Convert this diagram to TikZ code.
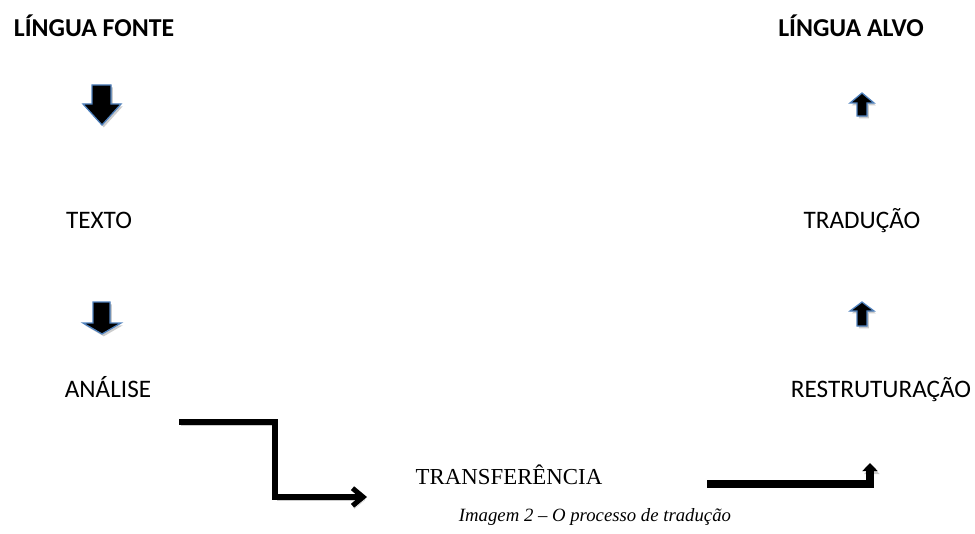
\documentclass[tikz,border=0pt]{standalone}
\usepackage{fontspec}
\setmainfont{Carlito}
\newfontfamily\fonteserif{Liberation Serif}
\usetikzlibrary{arrows.meta}
\definecolor{azulseta}{RGB}{79,129,189}

\begin{document}
\begin{tikzpicture}[x=0.03cm, y=-0.03cm,
      rotulo/.style={anchor=base, inner sep=0pt, font=\fontsize{21.5pt}{24pt}\selectfont},
      titulo/.style={anchor=base, inner sep=0pt, font=\fontsize{22pt}{24pt}\selectfont\bfseries},
      serifa/.style={anchor=base, inner sep=0pt, font=\fonteserif\fontsize{19.5pt}{22pt}\selectfont},
      bloco/.style={fill=black, draw=azulseta, line width=1.1pt, line join=miter,
        preaction={fill=black!20, transform canvas={shift={(1.5pt,-2pt)}}}},
      ligacao/.style={line width=4.3pt, line join=miter,
        preaction={draw=black!20, transform canvas={shift={(1.5pt,-2.5pt)}}}}]
      \useasboundingbox (0,0) rectangle (975,534);

      % titulos
      \node[titulo] (fonte) at (94,37) {LÍNGUA FONTE};
      \node[titulo] (alvo) at (851,37) {LÍNGUA ALVO};

      % coluna esquerda
      \node[rotulo] (texto) at (99,228) {TEXTO};
      \node[rotulo] (analise) at (108,397) {ANÁLISE};

      % coluna direita
      \node[rotulo] (traducao) at (862,228) {TRADUÇÃO};
      \node[rotulo] (restr) at (881,397) {RESTRUTURAÇÃO};

      % centro
      \node[serifa] (transf) at (509,484) {TRANSFERÊNCIA};
      \node[serifa, font=\fonteserif\itshape\fontsize{16pt}{18pt}\selectfont] (legenda) at (595,521)
        {Imagem 2 – O processo de tradução};

      % setas em bloco para baixo
      \draw[bloco] (92,85) -- (111,85) -- (111,104) -- (121,104) -- (102,125) -- (83,104) -- (92,104) -- cycle;
      \draw[bloco] (93,302) -- (110,302) -- (110,323) -- (121,323) -- (102,334) -- (83,323) -- (93,323) -- cycle;

      % setas em bloco para cima
      \draw[bloco] (857,116) -- (867,116) -- (867,103) -- (874,103) -- (862,93) -- (850,103) -- (857,103) -- cycle;
      \draw[bloco] (857,326) -- (867,326) -- (867,311) -- (874,311) -- (862,302) -- (850,311) -- (857,311) -- cycle;

      % ligacoes
      \coordinate (c1) at (179,422);
      \coordinate (c2) at (275,422);
      \coordinate (c3) at (275,497);
      \coordinate (c4) at (367,497);
      \draw[ligacao, -{Straight Barb[length=9pt, width=15pt]}] (c1) -- (c2) -- (c3) -- (c4);

      \coordinate (d1) at (707,484);
      \coordinate (d2) at (870,484);
      \coordinate (d3) at (870,463);
      \draw[ligacao, line width=6pt, -{Triangle[length=7pt, width=13pt]}] (d1) -- (d2) -- (d3);
    \end{tikzpicture}
\end{document}
